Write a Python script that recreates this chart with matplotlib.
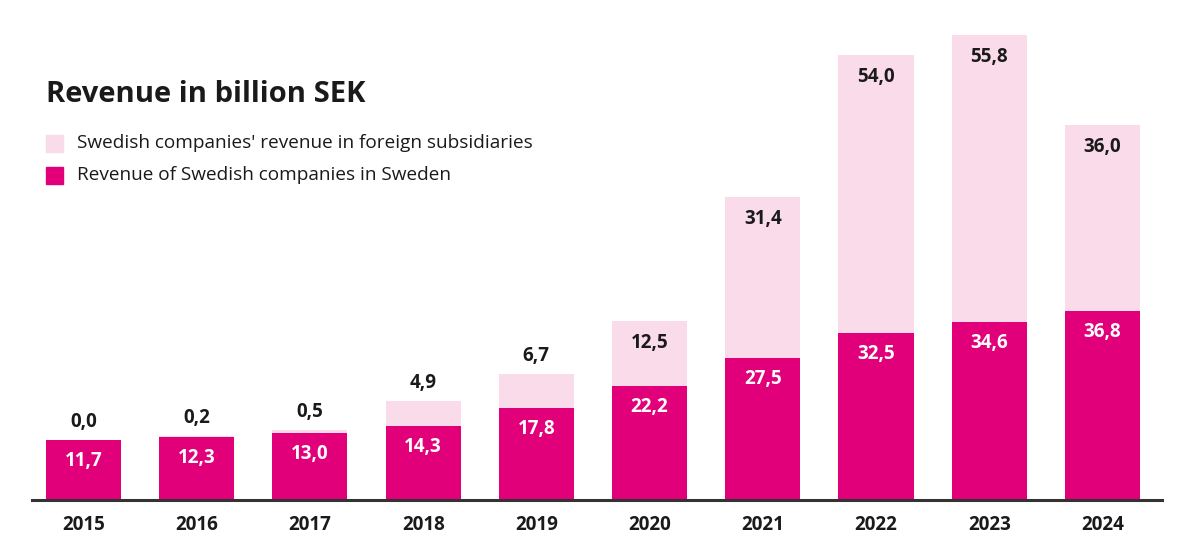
import matplotlib
matplotlib.use("Agg")
import matplotlib.pyplot as plt
from matplotlib.patches import Rectangle

years = ["2015", "2016", "2017", "2018", "2019", "2020", "2021", "2022", "2023", "2024"]
sweden = [11.7, 12.3, 13.0, 14.3, 17.8, 22.2, 27.5, 32.5, 34.6, 36.8]
foreign = [0.0, 0.2, 0.5, 4.9, 6.7, 12.5, 31.4, 54.0, 55.8, 36.0]

title = "Revenue in billion SEK"
legend_labels = ["Swedish companies' revenue in foreign subsidiaries",
                 "Revenue of Swedish companies in Sweden"]

DARK = "#E2007A"
LIGHT = "#FADBEA"
TEXT = "#1a1a1a"
FONT = "Open Sans"

def fmt(v):
    return f"{v:.1f}".replace(".", ",")

fig = plt.figure(figsize=(12, 5.46), dpi=100)
ax = fig.add_axes([32 / 1200, 46 / 546, 1130 / 1200, 500 / 546])
ax.set_xlim(-0.455, 9.526)
ax.set_ylim(0, 97.1)

x = list(range(len(years)))
w = 0.663
ax.bar(x, sweden, width=w, color=DARK, zorder=2)
ax.bar(x, foreign, width=w, bottom=sweden, color=LIGHT, zorder=1)

LS = 13.5
for i in x:
    s = sweden[i]
    f = foreign[i]
    ax.annotate(fmt(s), (i, s), xytext=(0, -21), textcoords="offset pixels",
                ha="center", va="center", color="white", fontsize=LS,
                fontweight="bold", family=FONT)
    top = s + f
    if f >= 10:
        ax.annotate(fmt(f), (i, top), xytext=(0, -22), textcoords="offset pixels",
                    ha="center", va="center", color=TEXT, fontsize=LS,
                    fontweight="bold", family=FONT)
    else:
        ax.annotate(fmt(f), (i, top), xytext=(0, 18), textcoords="offset pixels",
                    ha="center", va="center", color=TEXT, fontsize=LS,
                    fontweight="bold", family=FONT)

for side in ["left", "right", "top"]:
    ax.spines[side].set_visible(False)
ax.spines["bottom"].set_color("#333333")
ax.spines["bottom"].set_linewidth(2.2)
ax.spines["bottom"].set_zorder(3)
ax.set_yticks([])
ax.set_xticks(x)
ax.set_xticklabels(years, fontsize=13.5, fontweight="bold", family=FONT, color=TEXT)
ax.tick_params(axis="x", length=0, pad=11)

fig.text(46 / 1200, 1 - 95 / 546, title, fontsize=21, fontweight="bold",
         family=FONT, color=TEXT, va="center", ha="left")

for j, (lab, col) in enumerate(zip(legend_labels, [LIGHT, DARK])):
    yc = 143 + j * 32
    fig.patches.append(Rectangle((46 / 1200, 1 - (yc + 9) / 546), 17 / 1200, 17 / 546,
                                 transform=fig.transFigure, color=col, figure=fig))
    fig.text(77 / 1200, 1 - yc / 546, lab, fontsize=13.7, family=FONT,
             color=TEXT, va="center", ha="left")

fig.savefig("out.png", dpi=100, facecolor="white")
